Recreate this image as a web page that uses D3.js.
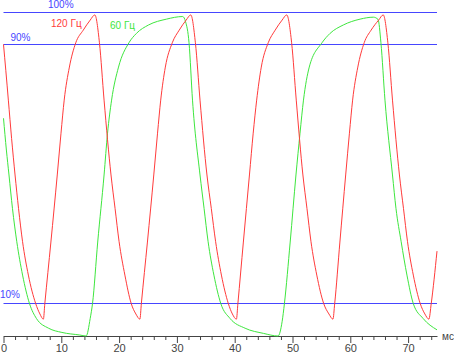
<!DOCTYPE html>
<html><head><meta charset="utf-8">
<script src="https://cdn.jsdelivr.net/npm/d3@7"></script>
<style>
html,body{margin:0;padding:0;background:#fff;}
svg{display:block;font-family:"Liberation Sans",Arial,sans-serif;}
</style></head>
<body>
<svg id="c" width="454" height="354"></svg>
<script>
// ---- data (time in ms, response in %) ----
const redTime = [0,0.4,0.84,1.4,2.0,2.6,3.3,4.3,5.57,6.3,6.9,
  7.15,8.2,9.3,9.95,10.5,11.4,12.5,13.8,15.0,15.8,
  16.6,17.4,18.6,19.3,20.0,21.0,22.1,22.9,23.6,
  23.85,24.9,26.0,26.65,27.2,28.0,29.2,30.4,31.6,32.4,
  33.2,34.0,35.2,35.95,36.7,37.7,38.9,39.6,40.3,
  40.55,41.5,42.55,43.2,43.8,44.6,45.8,47.0,48.2,49.0,
  49.85,50.65,51.8,52.5,53.2,54.2,55.4,56.3,57.0,
  57.3,58.2,59.2,59.85,60.4,61.3,62.4,63.6,64.9,65.7,
  66.5,67.3,68.5,69.2,69.9,70.9,72.1,72.9,73.6,
  74.0,75.0];
const redValue = [90,82,72.8,61,49.7,39.4,29.1,18.8,10,6.8,5.2,
  10,29,49.7,62.6,72.8,83,90.5,94.4,97.5,99.1,
  90.5,72.8,49.7,39.4,29.1,18.8,10,6.8,5.2,
  10,29,49.7,62.6,72.8,83,90.5,94.4,97.5,99.1,
  90.5,72.8,49.7,39.4,29.1,18.8,10,6.8,5.2,
  10,29,49.7,62.6,72.8,83,90.5,94.4,97.5,99.1,
  90.5,72.8,49.7,39.4,29.1,18.8,10,6.8,5.2,
  10,29,49.7,62.6,72.8,83,90.5,94.4,97.5,99.1,
  90.5,72.8,49.7,39.4,29.1,18.8,10,6.8,5.2,
  10,26.2];
const greenTime = [0,0.5,0.95,1.55,2.3,3.3,4.5,5.7,7.8,10.1,13.2,14.3,
  15.0,15.4,16.3,17.4,18.0,18.7,19.9,21.7,23.0,25.1,28.2,31.0,31.5,
  32.1,32.7,34.0,34.7,35.4,36.4,37.6,39.2,41.8,45.0,47.5,
  48.2,48.6,49.6,50.6,51.3,51.9,52.9,55.1,56.5,58.8,61.7,64.0,64.8,
  65.3,66.0,67.3,67.9,68.8,69.8,70.9,72.6,75.0];
const greenValue = [67.2,57.4,49.7,39.4,29.1,18.8,10,5.4,2.4,1.1,0.3,0,
  5.4,10,29,49.7,62.6,72.8,83,90.5,93.4,96,97.8,98.6,97,
  90.5,72.8,49.7,39.4,29.1,18.8,10,5.4,2.4,0.8,0,
  4.4,10,29,49.7,62.6,72.8,83,90.5,93.4,96,97.8,98.4,97.7,
  90.5,72.8,49.7,39.4,29.1,18.8,10,5.4,1.9];
const levels = [100, 90, 10];
const levelLabels = ["100%", "90%", "10%"];
const seriesNames = ["120 Гц", "60 Гц"];
const xTicks = d3.range(0, 76, 2);
const xUnit = "мс";

// ---- drawing ----
const svg = d3.select("#c");
const x = d3.scaleLinear().domain([0, 75]).range([3.5, 437]);
const y = d3.scaleLinear().domain([0, 100]).range([336, 12]);
const BLUE = "#4646ff", RED = "#ff3b3b", GREEN = "#3ee63e", GREY = "#444";

// level lines
levels.forEach((lv, i) => {
  const yy = Math.floor(y(lv)) + 0.5;
  svg.append("line").attr("x1", x(0)).attr("x2", x(75))
    .attr("y1", yy).attr("y2", yy)
    .attr("stroke", BLUE).attr("stroke-width", 1);
});
const lvlPos = [[48, 7.5], [10.5, 41], [0, 298]];
levelLabels.forEach((t, i) => {
  svg.append("text").attr("x", lvlPos[i][0]).attr("y", lvlPos[i][1])
    .attr("font-size", 10).attr("fill", BLUE).text(t);
});

// axis
const ax = svg.append("g").attr("transform", "translate(0,336)")
  .call(d3.axisBottom(x).tickValues(xTicks).tickSize(4).tickSizeOuter(0)
    .tickFormat(d => d % 10 === 0 ? d : ""));
ax.select(".domain").attr("stroke", GREY);
ax.selectAll(".tick line").attr("stroke", GREY)
  .attr("y2", d => d % 10 === 0 ? 7 : 4);
ax.selectAll(".tick text").attr("fill", GREY).attr("font-size", 11)
  .attr("font-family", "Liberation Sans, Arial, sans-serif")
  .attr("y", 8.5);
svg.append("text").attr("x", 442).attr("y", 340).attr("font-size", 10)
  .attr("fill", GREY).text(xUnit);

// curves
const line = d3.line().x(d => x(d[0])).y(d => y(d[1])).curve(d3.curveMonotoneX);
const greenData = greenTime.map((t, i) => [t, greenValue[i]]);
const redData = redTime.map((t, i) => [t, redValue[i]]);
svg.append("path").datum(greenData).attr("d", line)
  .attr("fill", "none").attr("stroke", GREEN).attr("stroke-width", 1);
svg.append("path").datum(redData).attr("d", line)
  .attr("fill", "none").attr("stroke", RED).attr("stroke-width", 1);

svg.append("text").attr("x", 51).attr("y", 26.5).attr("font-size", 10)
  .attr("fill", RED).text(seriesNames[0]);
svg.append("text").attr("x", 110).attr("y", 29).attr("font-size", 10)
  .attr("fill", GREEN).text(seriesNames[1]);
</script>
</body></html>
